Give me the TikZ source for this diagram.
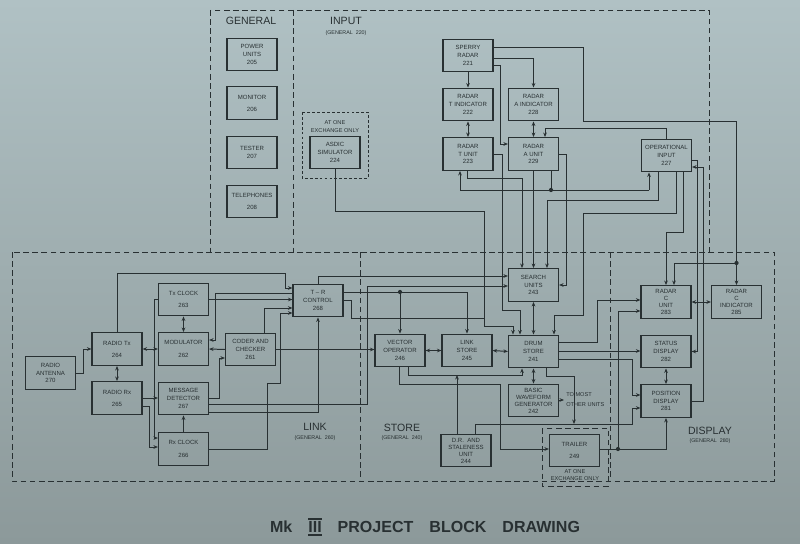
\documentclass[tikz,border=0pt]{standalone}
\usepackage{fontspec}
\setmainfont{Liberation Sans}
\usetikzlibrary{arrows.meta}
\definecolor{paper}{RGB}{176,193,196}
\definecolor{paperdk}{RGB}{140,153,154}
\definecolor{ink}{RGB}{40,48,50}
\newcommand{\boxfont}{\fontsize{4.3}{5.6}\selectfont}
\newcommand{\barnum}[1]{\setbox0\hbox{#1}\rlap{\rule[-2.2pt]{\wd0}{1pt}}\rlap{\rule[\dimexpr\ht0+1.2pt\relax]{\wd0}{1pt}}\box0}

\begin{document}
\begin{tikzpicture}[x=0.025cm, y=-0.025cm, >={Stealth[length=3.2pt,width=2.6pt]},
		every node/.style={text=ink},
		blk/.style={draw=ink, line width=0.8pt, minimum width=1.25cm, minimum height=0.82cm, inner sep=1pt, align=center, font=\boxfont},
		w/.style={draw=ink, line width=0.7pt},
		area/.style={draw=ink, line width=0.7pt, dash pattern=on 4pt off 2.5pt},
		hd/.style={font=\fontsize{7.5}{9}\selectfont},
		sub/.style={font=\fontsize{3.8}{4.5}\selectfont},
		note/.style={font=\fontsize{4}{5}\selectfont, inner sep=0pt}]
			\shade[top color=paper, bottom color=paperdk] (0,0) rectangle (800,544);

			% areas
			\draw[area] (210,10) rectangle (709,252);
			\draw[area] (293,10) -- (293,252);
			\draw[area] (12,252) rectangle (774,481);
			\draw[area] (360,252) -- (360,481);
			\draw[area] (610,252) -- (610,481);
			\draw[draw=ink, line width=0.7pt, dash pattern=on 2pt off 1.5pt] (302,112) rectangle (368,178);
			\draw[area] (542,428) rectangle (608,486);

			\node[hd] (hgen) at (251,21) {GENERAL};
			\node[hd] (hinp) at (346,21) {INPUT};
			\node[sub] (sinp) at (346,33) {(GENERAL\ \ 220)};
			\node[hd] (hlnk) at (315,427) {LINK};
			\node[sub] (slnk) at (315,438) {(GENERAL\ \ 260)};
			\node[hd] (hsto) at (402,428) {STORE};
			\node[sub] (ssto) at (402,438) {(GENERAL\ \ 240)};
			\node[hd] (hdsp) at (710,431) {DISPLAY};
			\node[sub] (sdsp) at (710,441) {(GENERAL\ \ 280)};
			\node[note] (exa1) at (335,123) {AT ONE};
			\node[note] (exa2) at (335,131) {EXCHANGE ONLY};
			\node[note] (exb1) at (575,472) {AT ONE};
			\node[note] (exb2) at (575,479) {EXCHANGE ONLY};
			\node[note, anchor=west] (most1) at (566,395) {TO MOST};
			\node[note, anchor=west] (most2) at (566,405) {OTHER UNITS};
			\node[font=\fontsize{11.4}{13}\selectfont\bfseries] (title) at (425,527)
				{Mk\quad \barnum{III}\quad PROJECT\quad BLOCK\quad DRAWING};

			% general
			\node[blk] (pwr) at (252,54.5) {POWER\\UNITS\\205};
			\node[blk] (mon) at (252,103) {MONITOR\\[3pt]206};
			\node[blk] (tst) at (252,152.5) {TESTER\\207};
			\node[blk] (tel) at (252,201.5) {TELEPHONES\\[3pt]208};

			% input
			\node[blk] (asdic) at (335,152.5) {ASDIC\\SIMULATOR\\224};
			\node[blk] (sperry) at (468,55.5) {SPERRY\\RADAR\\221};
			\node[blk] (rti) at (468,104.5) {RADAR\\T INDICATOR\\222};
			\node[blk] (rai) at (533.5,104.5) {RADAR\\A INDICATOR\\228};
			\node[blk] (rtu) at (468,154) {RADAR\\T UNIT\\223};
			\node[blk] (rau) at (533.5,154) {RADAR\\A UNIT\\229};
			\node[blk] (opin) at (666.5,155.5) {OPERATIONAL\\INPUT\\227};

			% link
			\node[blk] (ant) at (50.5,373) {RADIO\\ANTENNA\\270};
			\node[blk] (rtx) at (117,349) {RADIO Tx\\[3pt]264};
			\node[blk] (rrx) at (117,398) {RADIO Rx\\[3pt]265};
			\node[blk] (txc) at (183.5,299.5) {Tx CLOCK\\[3pt]263};
			\node[blk] (mod) at (183.5,349) {MODULATOR\\[4pt]262};
			\node[blk] (msg) at (183.5,398.5) {MESSAGE\\DETECTOR\\267};
			\node[blk] (rxc) at (183.5,449) {Rx CLOCK\\[4pt]266};
			\node[blk] (cod) at (250.5,349.5) {CODER AND\\CHECKER\\261};
			\node[blk] (trc) at (318,300.5) {T -- R\\CONTROL\\268};

			% store
			\node[blk] (srch) at (533.5,285) {SEARCH\\UNITS\\243};
			\node[blk] (vec) at (400,350.5) {VECTOR\\OPERATOR\\246};
			\node[blk] (lnk) at (467,350.5) {LINK\\STORE\\245};
			\node[blk] (drum) at (533.5,351.5) {DRUM\\STORE\\241};
			\node[blk, font=\fontsize{4.3}{5}\selectfont] (bwg) at (533.5,400.5) {BASIC\\WAVEFORM\\GENERATOR\\242};
			\node[blk, font=\fontsize{4.3}{5}\selectfont] (dr) at (466,450.5) {D.R.\ \ AND\\STALENESS\\UNIT\\244};
			\node[blk] (trl) at (574.5,450.5) {TRAILER\\[3pt]249};

			% display
			\node[blk, font=\fontsize{4.3}{5}\selectfont] (rcu) at (666,302) {RADAR\\C\\UNIT\\283};
			\node[blk, font=\fontsize{4.3}{5}\selectfont] (rci) at (736.5,302) {RADAR\\C\\INDICATOR\\285};
			\node[blk] (sts) at (666,351.5) {STATUS\\DISPLAY\\282};
			\node[blk] (pos) at (666,401) {POSITION\\DISPLAY\\281};

			% input wiring
			\draw[w, ->] (sperry.south) -- (rti.north);
			\draw[w, <->] (rti.south) -- (rtu.north);
			\draw[w, ->] (sperry.east |- 0,58) -| (rai.north);
			\draw[w, ->] (sperry.east |- 0,65) -- (500,65) |- (rau.west |- 0,144);
			\draw[w, <->] (rai.south) -- (rau.north);
			\draw[w, ->] (sperry.east |- 0,47) -| (583,121) -| (rci.north);
			\draw[w, ->] (rci.north |- 0,263) -| (rcu.north -| 674,0);
			\fill[ink] (rci.north |- 0,263) circle (1.5pt);
			\draw[w, ->] (opin.north) |- (545,128) -- (rau.north -| 545,0);
			\draw[w, ->] (649,190) -- (opin.south -| 649,0);
			\draw[w, ->] (649,190) -| (rtu.south -| 460,0);
			\draw[w] (rau.south -| 551,0) -- (551,190);
			\fill[ink] (551,190) circle (1.5pt);
			\draw[w, ->] (rtu.south -| 467,0) |- (522,178) -- (srch.north -| 522,0);
			\draw[w, ->] (rau.south) -- (srch.north);
			\draw[w, ->] (opin.south -| 658,0) |- (547,200) -- (srch.north -| 547,0);
			\draw[w, ->] (opin.south -| 676,0) |- (583,213) |- (554,315) -- (drum.north -| 554,0);
			\draw[w, ->] (opin.south -| 683,0) |- (666,232) -- (rcu.north);
			\draw[w, ->] (rtu.east) -| (502,310) -| (drum.north -| 520,0);
			\draw[w, ->] (rau.east) -| (566,285) -- (srch.east);
			\draw[w, ->] (asdic.south) |- (484,211) |- (513,326) -- (drum.north -| 513,0);
			\draw[w, ->] (opin.east |- 0,160) -| (697,351.5) -- (sts.east);
			\draw[w, ->] (pos.east) -| (703,167) -- (opin.east |- 0,167);

			% link wiring
			\draw[w, ->] (ant.east) -- (83,373) |- (rtx.west);
			\draw[w, <->] (rtx.south) -- (rrx.north);
			\draw[w, <->] (rtx.east) -- (mod.west);
			\draw[w, ->] (rrx.east |- 0,398) -- (msg.west |- 0,398);
			\draw[w, ->] (rrx.east |- 0,406) -| (149,447) -- (rxc.west |- 0,447);
			\draw[w, ->] (txc.west) -| (154,438) -- (rxc.west |- 0,438);
			\draw[w, <->] (txc.south) -- (mod.north);
			\draw[w, ->] (rxc.north) -- (msg.south);
			\draw[w, ->] (cod.west) -- (mod.east);
			\draw[w, ->] (msg.east |- 0,398) -| (219,358) -- (cod.west |- 0,358);
			\draw[w, ->] (txc.east) -- (trc.west |- txc.east);
			\draw[w, ->] (trc.west |- 0,293) -| (215,340) -- (mod.east |- 0,340);
			\draw[w, ->] (cod.north -| 264,0) |- (trc.west |- 0,308);
			\draw[w, ->] (rtx.north) |- (285,273) |- (trc.west |- 0,288);
			\draw[w, ->] (rxc.east) -| (267,383) -| (280,313) -- (trc.west |- 0,313);
			\draw[w, ->] (cod.east) -- (vec.west |- cod.east);
			\draw[w, ->] (msg.east |- 0,412) -| (trc.south);
			\draw[w, ->] (msg.east |- 0,404) -| (367,286) -- (srch.west |- 0,286);
			\draw[w, ->] (trc.north) |- (srch.west |- 0,276);
			\draw[w, ->] (trc.east |- 0,292) -| (lnk.north);
			\draw[w, ->] (400,292) -- (vec.north);
			\fill[ink] (400,292) circle (1.5pt);
			\draw[w] (trc.east |- 0,300) -| (351,318) -- (484,318);

			% store wiring
			\draw[w, <->] (vec.east) -- (lnk.west);
			\draw[w, <->] (lnk.east) -- (drum.west);
			\draw[w, <->] (srch.south) -- (drum.north);
			\draw[w, <->] (drum.south) -- (bwg.north);
			\draw[w, ->] (vec.south -| 408,0) |- (522,375) -- (drum.south -| 522,0);
			\draw[w, ->] (dr.north -| 457,0) -- (457,375);
			\draw[w, ->] (vec.south -| 399,0) |- (500,384) |- (trl.west |- 0,449);
			\draw[w, ->] (drum.south -| 546,0) |- (574,376) -- (574,424);
			\draw[w, ->] (bwg.east |- 0,400) -- (564,400);
			\draw[w, ->] (dr.north -| 475,0) |- (632,424) |- (pos.west |- 0,408);
			\draw[w, ->] (drum.east |- 0,342) -| (597,300) -- (rcu.west |- 0,300);
			\draw[w, ->] (drum.east |- 0,351) -- (sts.west |- 0,351);
			\draw[w, ->] (drum.east |- 0,359) -| (632,395) -- (pos.west |- 0,395);
			\draw[w, ->] (trl.east |- 0,449) -| (pos.south);
			\draw[w, ->] (618,449) |- (rcu.west |- 0,311);
			\fill[ink] (618,449) circle (1.5pt);

			% display wiring
			\draw[w, <->] (rcu.east) -- (rci.west);
			\draw[w, <->] (sts.south) -- (pos.north);
		\end{tikzpicture}
\end{document}
